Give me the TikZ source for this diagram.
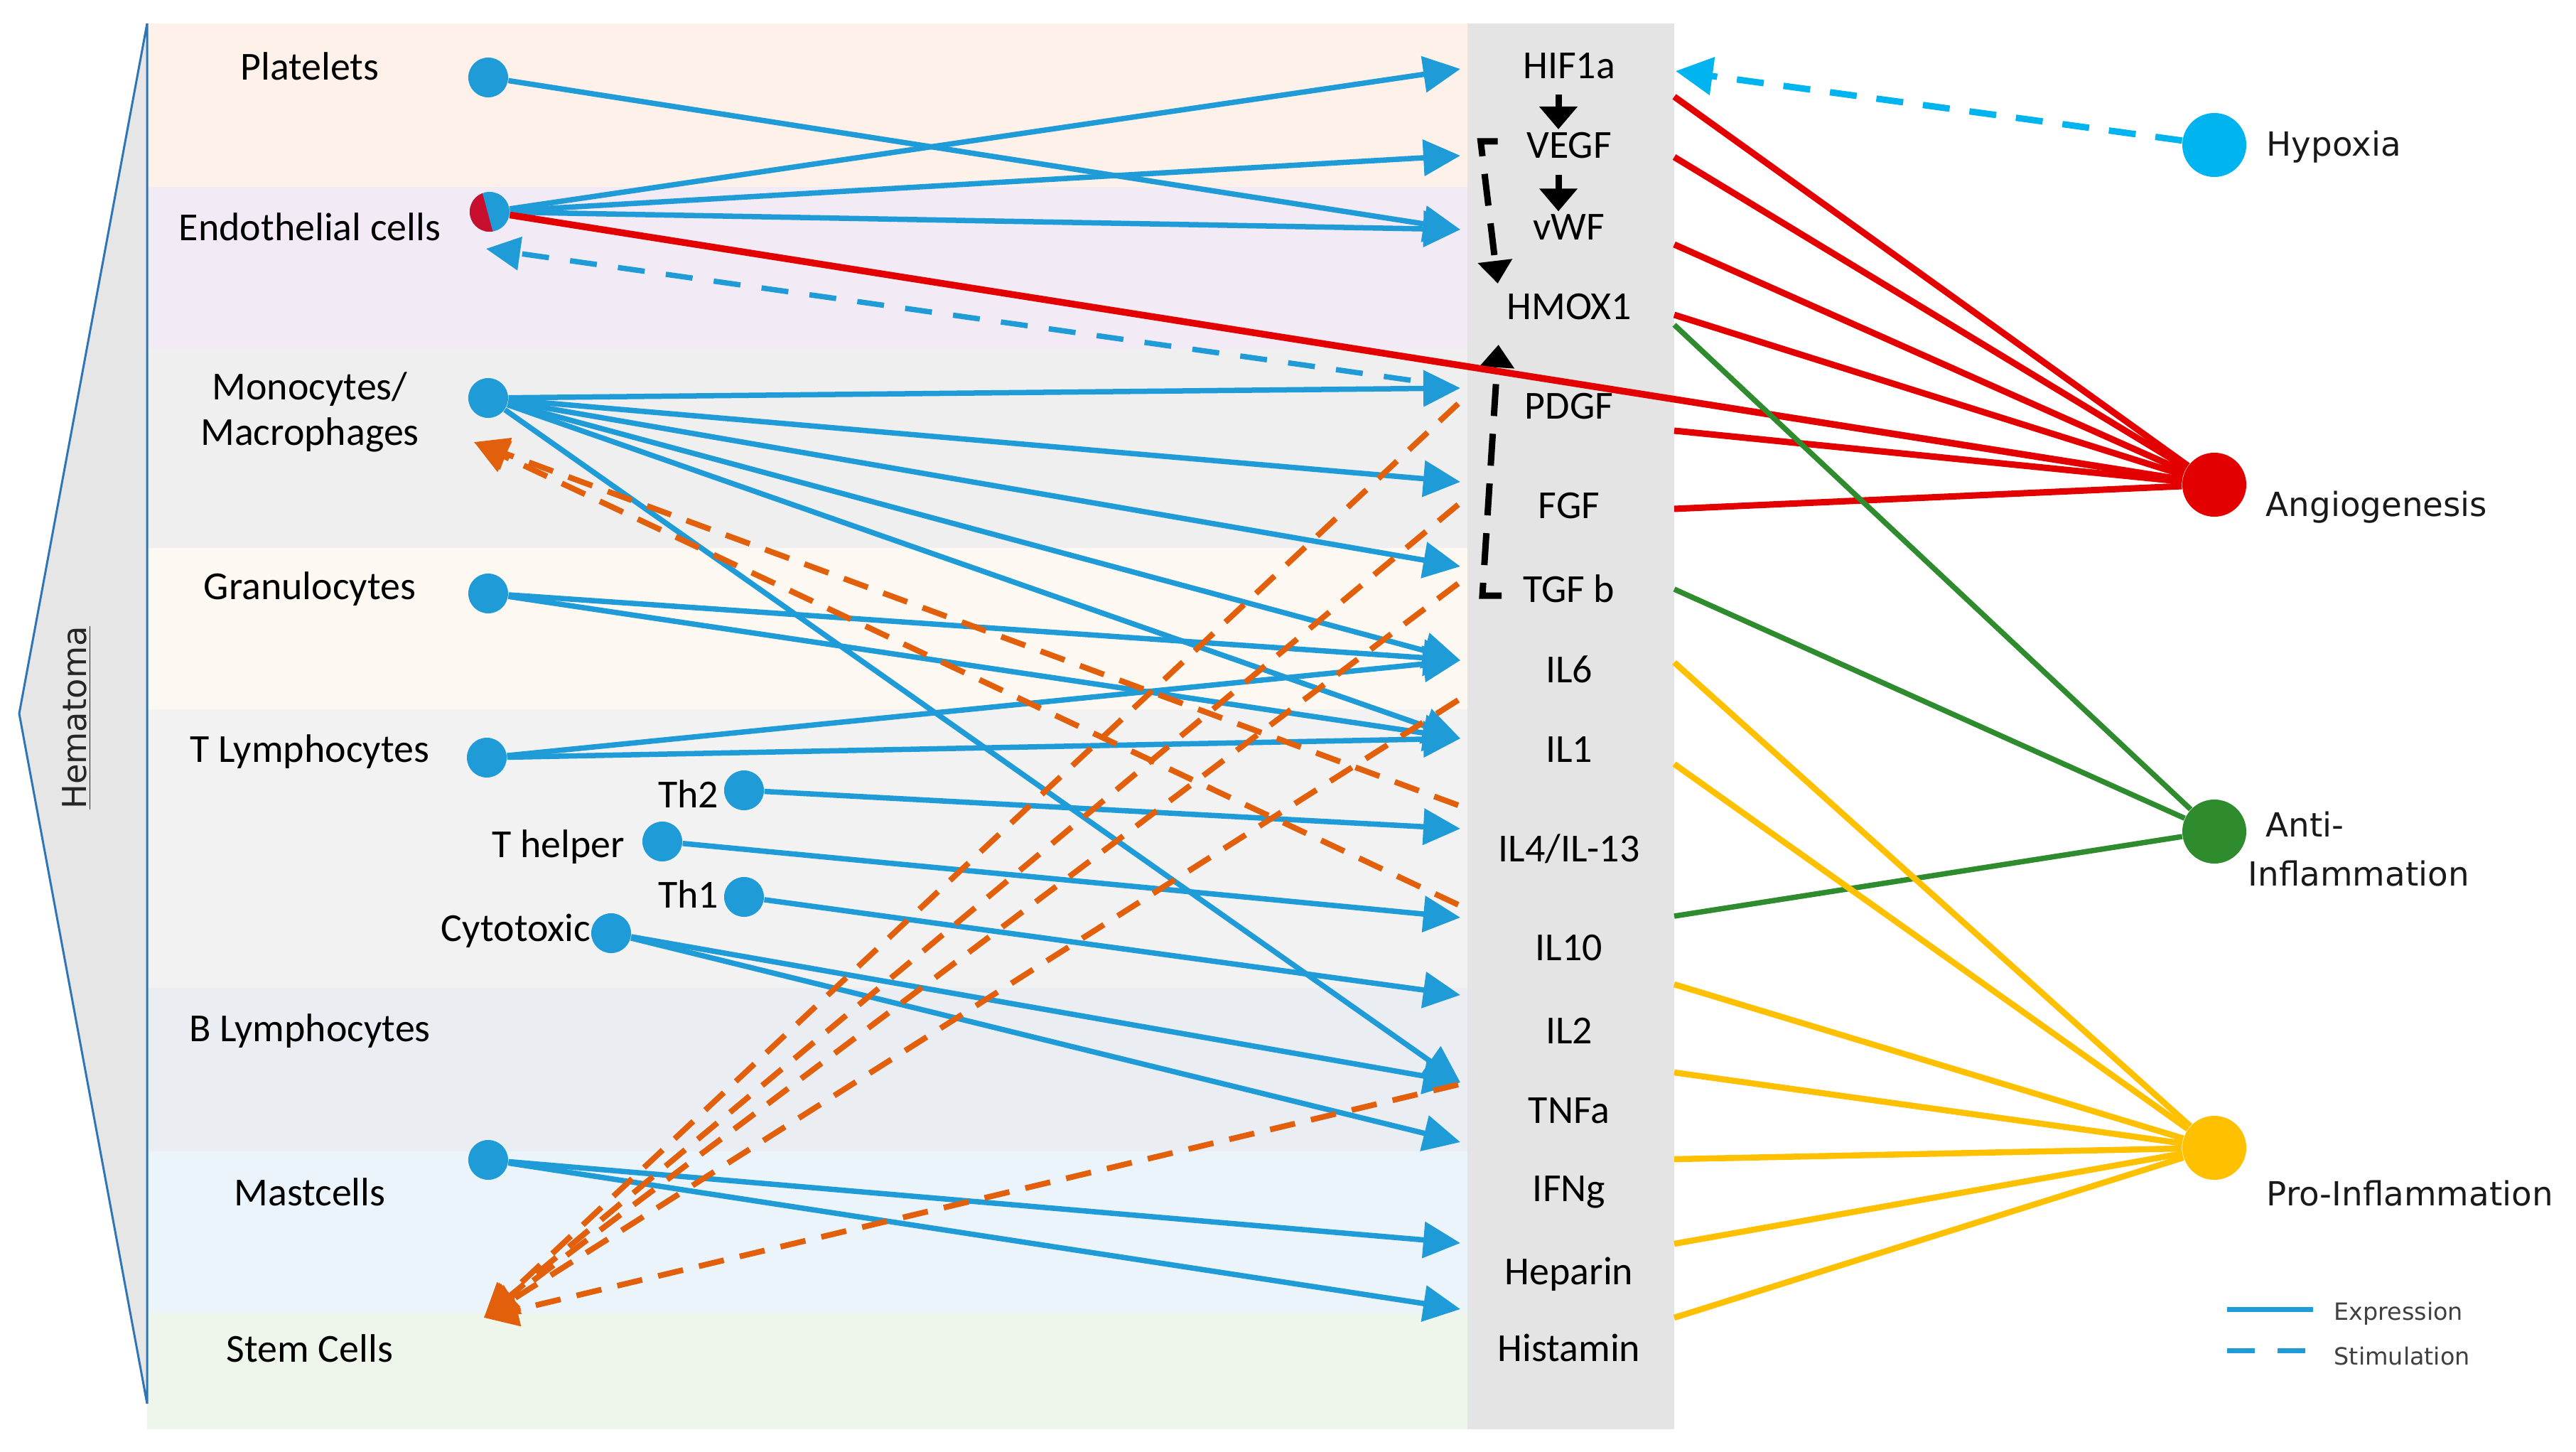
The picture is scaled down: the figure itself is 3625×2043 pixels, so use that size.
\documentclass[tikz,border=0pt]{standalone}
\usepackage{fontspec}
\setmainfont{Carlito}
\newfontfamily\verd{DejaVu Sans}
\usepackage{tikz}
\usetikzlibrary{arrows.meta,calc}

\definecolor{expblue}{HTML}{1F9BD7}
\definecolor{stimorange}{HTML}{E2600B}
\definecolor{hypcyan}{HTML}{00B4EF}
\definecolor{angred}{HTML}{E30000}
\definecolor{endored}{HTML}{C8102E}
\definecolor{antigreen}{HTML}{2E8B2E}
\definecolor{proyellow}{HTML}{FFC000}
\definecolor{colgrey}{HTML}{E4E4E4}
\definecolor{hemagrey}{HTML}{E6E6E6}
\definecolor{hemablue}{HTML}{2F75B5}
\definecolor{bandplt}{HTML}{FDF1E9}
\definecolor{bandendo}{HTML}{F2EBF6}
\definecolor{bandmono}{HTML}{EFEFEF}
\definecolor{bandgran}{HTML}{FDF9F2}
\definecolor{bandtly}{HTML}{F2F2F2}
\definecolor{bandbly}{HTML}{EAEEF2}
\definecolor{bandmast}{HTML}{EBF4FB}
\definecolor{bandstem}{HTML}{EEF6EB}
\definecolor{legtext}{HTML}{404040}

\tikzset{>={Triangle[length=0.52cm,width=0.5cm]}}
\tikzset{
  cell/.style={circle, fill=expblue, minimum size=0.56cm, inner sep=0pt},
  goal/.style={circle, minimum size=0.9cm, inner sep=0pt},
  lbl/.style={font=\fontsize{15.9}{18.4}\selectfont, align=center, inner sep=0pt},
  mol/.style={font=\fontsize{15.9}{18.4}\selectfont, inner sep=0pt},
  goaltxt/.style={font=\verd\fontsize{13.3}{19.6}\selectfont, text=black!90, inner sep=0pt, anchor=west, align=left},
  legtxt/.style={font=\verd\fontsize{9.5}{11}\selectfont, text=legtext, inner sep=0pt, anchor=west},
  exprline/.style={expblue, line width=0.075cm},
  expr/.style={exprline, ->},
  stim/.style={->, stimorange, line width=0.08cm, dash pattern=on 0.36cm off 0.23cm,
    >={Triangle[length=0.48cm,width=0.46cm]}},
  stimblue/.style={->, expblue, line width=0.075cm, dash pattern=on 0.38cm off 0.3cm,
    >={Triangle[length=0.48cm,width=0.46cm]}},
  hypdash/.style={->, hypcyan, line width=0.09cm, dash pattern=on 0.38cm off 0.28cm,
    >={Triangle[length=0.52cm,width=0.52cm]}},
  blk/.style={->, black, line width=0.09cm, >={Triangle[length=0.32cm,width=0.52cm]}},
  blkdash/.style={blk, dash pattern=on 0.45cm off 0.25cm, >={Triangle[length=0.32cm,width=0.47cm]}},
  angio/.style={angred, line width=0.09cm},
  antiinf/.style={antigreen, line width=0.075cm},
  proinf/.style={proyellow, line width=0.085cm}
}

\begin{document}
\begin{tikzpicture}[x=0.01cm, y=-0.01cm]
  \useasboundingbox (0,0) rectangle (3625,2043);
  \fill[bandplt] (207,33) rectangle (2065,263);
  \fill[bandendo] (207,263) rectangle (2065,491);
  \fill[bandmono] (207,491) rectangle (2065,771);
  \fill[bandgran] (207,771) rectangle (2065,998);
  \fill[bandtly] (207,998) rectangle (2065,1390);
  \fill[bandbly] (207,1390) rectangle (2065,1620);
  \fill[bandmast] (207,1620) rectangle (2065,1847);
  \fill[bandstem] (207,1847) rectangle (2065,2011);
  \fill[colgrey] (2065,33) rectangle (2356,2011);
  \draw[hemablue, fill=hemagrey, line width=0.03cm] (207,33) -- (27,1004) -- (207,1975) -- cycle;
  \node[font=\verd\fontsize{13.2}{15}\selectfont, text=black!85, rotate=90, inner sep=0pt] (hema) at (108,1010) {\underline{Hematoma}};

  \foreach \n/\t/\y/\a/\b/\s in {hif/HIF1a/93/97/136/97, vegf/VEGF/205/219/221/219,
      vwf/vWF/320/323/344/323, hmox/HMOX1/432/432/443/432, pdgf/PDGF/572/546/606/568,
      fgf/FGF/712/678/716/710, tgf/TGF b/828/797/829/821, il6/IL6/942/929/932/929,
      il1/IL1/1055/1039/1075/985, il4/IL4\slash IL-13/1194/1166/1166/1133,
      il10/IL10/1334/1291/1289/1273, il2/IL2/1450/1400/1385/1400,
      tnf/TNFa/1563/1523/1509/1526, ifn/IFNg/1677/1607/1631/1607,
      hep/Heparin/1793/1749/1750/1749, his/Histamin/1896/1842/1854/1842} {
    \node[mol] (\n) at (2208,\y) {\t};
    \coordinate (\n-in) at (2055,\a);
    \coordinate (\n-out) at (2356,\b);
    \coordinate (\n-st) at (2052,\s);
  }
  \coordinate (hmox-out2) at (2356,457);
  \coordinate (hif-edge) at (2358,100);
  \coordinate (pdgf-st2) at (1985,535);

  \node[lbl] (plt-l) at (436,93) {Platelets};
  \node[lbl] (endo-l) at (436,319) {Endothelial cells};
  \node[lbl] (mono-l) at (436,580) {Monocytes/\\Macrophages};
  \node[lbl] (gran-l) at (436,829) {Granulocytes};
  \node[lbl] (tly-l) at (436,1058) {T Lymphocytes};
  \node[lbl] (bly-l) at (436,1451) {B Lymphocytes};
  \node[lbl] (mast-l) at (436,1677) {Mastcells};
  \node[lbl] (stem-l) at (436,1897) {Stem Cells};
  \node[lbl, anchor=east] (th2-l) at (1012,1117) {Th2};
  \node[lbl, anchor=east] (thelp-l) at (880,1192) {T helper};
  \node[lbl, anchor=east] (th1-l) at (1012,1258) {Th1};
  \node[lbl, anchor=east] (cyto-l) at (832,1310) {Cytotoxic};

  \node[cell] (plt) at (687,109) {};
  \node[cell] (endo) at (689,298) {};
  \node[cell] (mono) at (687,560) {};
  \node[cell] (gran) at (687,835) {};
  \node[cell] (tly) at (685,1066) {};
  \node[cell] (th2) at (1047,1112) {};
  \node[cell] (thelp) at (932,1184) {};
  \node[cell] (th1) at (1047,1262) {};
  \node[cell] (cyto) at (860,1313) {};
  \node[cell] (mast) at (687,1632) {};
  \begin{scope}
    \clip (endo) circle (0.28cm);
    \fill[endored] (640,250) -- (673,250) -- (700,350) -- (640,350) -- cycle;
  \end{scope}
  \coordinate (endo-in) at (684,350);
  \coordinate (mono-in) at (667,622);
  \coordinate (stem-in) at (681,1854);

  \node[goal, fill=hypcyan] (hyp) at (3116,204) {};
  \node[goal, fill=angred] (ang) at (3116,682) {};
  \node[goal, fill=antigreen] (anti) at (3116,1170) {};
  \node[goal, fill=proyellow] (pro) at (3116,1615) {};
  \node[goaltxt] (hyp-l) at (3189,207) {Hypoxia};
  \node[goaltxt] (ang-l) at (3188,714) {Angiogenesis};
  \node[goaltxt] (anti-l) at (3163,1195) {\hspace*{0.25cm}Anti-\\Inflammation};
  \node[goaltxt] (pro-l) at (3189,1679) {Pro-Inflammation};

  \draw[expr] (plt) -- (vwf-in);
  \foreach \t in {hif, vegf, vwf} {
    \draw[expr] (endo) -- (\t-in);
  }
  \foreach \t in {pdgf, fgf, tgf, il6, il1, tnf} {
    \draw[expr] (mono) -- (\t-in);
  }
  \foreach \t in {il6, il1} {
    \draw[expr] (gran) -- (\t-in);
    \draw[expr] (tly) -- (\t-in);
  }
  \draw[expr] (th2) -- (il4-in);
  \draw[expr] (thelp) -- (il10-in);
  \draw[expr] (th1) -- (il2-in);
  \draw[expr] (cyto) -- (tnf-in);
  \draw[expr] (cyto) -- (ifn-in);
  \draw[expr] (mast) -- (hep-in);
  \draw[expr] (mast) -- (his-in);

  \draw[stim] (il4-st) -- (mono-in);
  \draw[stim] (il10-st) -- (mono-in);
  \foreach \t in {pdgf, fgf, tgf, il1, tnf} {
    \draw[stim] (\t-st) -- (stem-in);
  }
  \draw[stimblue] (pdgf-st2) -- (endo-in);
  \draw[hypdash] (hyp) -- (hif-edge);

  \draw[blk] ($(hif.south)+(-15,21)$) -- ($(vegf.north)+(-15,-4)$);
  \draw[blk] ($(vegf.south)+(-15,22)$) -- ($(vwf.north)+(-15,-4)$);
  \draw[blkdash] ($(vegf.west)+(-40,-6)$) -- ++(-24,0) -- ($(hmox.north west)+(-12,-14)$);
  \draw[blkdash] ($(tgf.west)+(-30,10)$) -- ++(-27,0) -- ($(hmox.south west)+(-11,34)$);

  \foreach \t in {hif, vegf, vwf, hmox, pdgf, fgf} {
    \draw[angio] (\t-out) -- (ang);
  }
  \draw[angio, line width=0.095cm] (endo) -- (ang);
  \foreach \t in {hmox-out2, tgf-out, il10-out} {
    \draw[antiinf] (\t) -- (anti);
  }
  \foreach \t in {il6, il1, il2, tnf, ifn, hep, his} {
    \draw[proinf] (\t-out) -- (pro);
  }

  \node[legtxt] (leg-exp) at (3284,1848) {Expression};
  \node[legtxt] (leg-stim) at (3284,1908) {Stimulation};
  \draw[exprline, line width=0.07cm] (3134,1842) -- (3255,1842);
  \draw[exprline, line width=0.07cm, dash pattern=on 0.39cm off 0.32cm] (3134,1900) -- (3245,1900);
\end{tikzpicture}
\end{document}
